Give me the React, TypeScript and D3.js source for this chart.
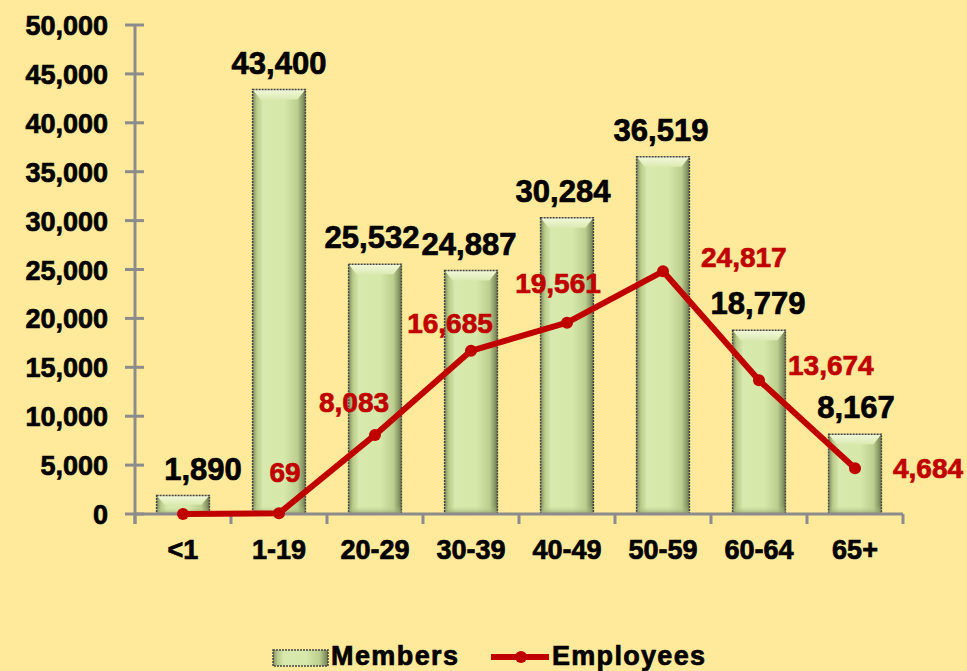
import React from "react";
import * as d3 from "d3";

const categories = ["<1", "1-19", "20-29", "30-39", "40-49", "50-59", "60-64", "65+"];
const members = [1890, 43400, 25532, 24887, 30284, 36519, 18779, 8167];
const employees = [0, 69, 8083, 16685, 19561, 24817, 13674, 4684];
const yTicks = [0, 5000, 10000, 15000, 20000, 25000, 30000, 35000, 40000, 45000, 50000];

// label layout (not data): anchor mode and small nudges, as placed in the original chart
const employeeLabelMode = ["none", "above", "above", "above", "above", "right", "right", "right"];
const employeeLabelNudge: [number, number][] = [
  [0, 0], [6, -41], [-21, -33], [-21, -28], [-9, -40], [38, -14], [29, -15], [38, 0],
];
const memberLabelNudge = [20, 0, -3, -2, -4, -2, -1, 1];

const W = 967;
const H = 671;
const FONT = "'Liberation Sans', Arial, sans-serif";
const RED = "#C00000";

export default function App() {
  const x = d3.scaleBand<string>().domain(categories).range([135, 903]).paddingInner(0.45).paddingOuter(0.225);
  const y = d3.scaleLinear().domain([0, 50000]).range([514, 25]);
  const fmt = d3.format(",");
  const cx = (c: string) => (x(c) as number) + x.bandwidth() / 2;
  const line = d3
    .line<number>()
    .x((_, i) => cx(categories[i]))
    .y((v) => y(v));
  const step = x.step();
  const boundaries = d3.range(categories.length + 1).map((i) => 135 + i * step);
  const bw = x.bandwidth();
  const heavy = (c: string) => ({ stroke: c, strokeWidth: 0.7, paintOrder: "stroke" as const });

  return (
    <svg width={W} height={H} style={{ position: "fixed", left: 0, top: 0, background: "#FFE99A" }} fontFamily={FONT}>
      <defs>
        <linearGradient id="barGrad" x1="0" x2="1" y1="0" y2="0">
          <stop offset="0%" stopColor="#7f8c5c" />
          <stop offset="8%" stopColor="#b9cb8a" />
          <stop offset="20%" stopColor="#d8e9ad" />
          <stop offset="60%" stopColor="#d6e8aa" />
          <stop offset="85%" stopColor="#bccf8e" />
          <stop offset="100%" stopColor="#6f7b4e" />
        </linearGradient>
        <linearGradient id="topGrad" x1="0" x2="0" y1="0" y2="1">
          <stop offset="0%" stopColor="#f2f8da" />
          <stop offset="100%" stopColor="#dbeab2" />
        </linearGradient>
        <linearGradient id="botGrad" x1="0" x2="0" y1="0" y2="1">
          <stop offset="0%" stopColor="#c4d696" stopOpacity={0} />
          <stop offset="100%" stopColor="#8e9c6a" stopOpacity={0.8} />
        </linearGradient>
      </defs>
      <rect x={0} y={0} width={W} height={H} fill="#FFE99A" />

      {/* y axis */}
      <line x1={135} x2={135} y1={y(50000)} y2={524} stroke="#8c8c8c" strokeWidth={3} />
      {yTicks.map((t) => (
        <g key={t}>
          <line x1={125} x2={144} y1={y(t)} y2={y(t)} stroke="#8c8c8c" strokeWidth={3} />
          <text x={108} y={y(t) + 10} textAnchor="end" fontSize={27} fontWeight="bold" fill="#000" {...heavy("#000")}>
            {fmt(t)}
          </text>
        </g>
      ))}

      {/* bars */}
      {members.map((v, i) => {
        const bx = x(categories[i]) as number;
        const by = y(v);
        const bh = y(0) - by;
        const bev = Math.min(10, bh / 2);
        return (
          <g key={i}>
            <rect x={bx} y={by} width={bw} height={bh} fill="url(#barGrad)" />
            <polygon
              points={`${bx},${by} ${bx + bw},${by} ${bx + bw - 8},${by + bev} ${bx + 8},${by + bev}`}
              fill="url(#topGrad)"
            />
            <rect x={bx} y={y(0) - Math.min(8, bh / 3)} width={bw} height={Math.min(8, bh / 3)} fill="url(#botGrad)" />
            <rect x={bx} y={by} width={bw} height={bh} fill="none" stroke="#444" strokeWidth={1.5} strokeDasharray="2,1" />
            <text
              x={cx(categories[i]) + memberLabelNudge[i]}
              y={by - 16}
              textAnchor="middle"
              fontSize={31}
              fontWeight="bold"
              fill="#000"
              {...heavy("#000")}
            >
              {fmt(v)}
            </text>
          </g>
        );
      })}

      {/* x axis */}
      <line x1={135} x2={903} y1={514} y2={514} stroke="#8c8c8c" strokeWidth={3} />
      {boundaries.map((b, i) => (
        <line key={i} x1={b} x2={b} y1={514} y2={524} stroke="#8c8c8c" strokeWidth={3} />
      ))}
      {categories.map((c) => (
        <text key={c} x={cx(c)} y={559} textAnchor="middle" fontSize={27} fontWeight="bold" fill="#000" {...heavy("#000")}>
          {c}
        </text>
      ))}

      {/* employees line */}
      <path d={line(employees) as string} fill="none" stroke={RED} strokeWidth={6} strokeLinejoin="round" />
      {employees.map((v, i) => (
        <circle key={i} cx={cx(categories[i])} cy={y(v)} r={6} fill={RED} />
      ))}
      {employees.map((v, i) => {
        const mode = employeeLabelMode[i];
        if (mode === "none") return null;
        const px = cx(categories[i]) + employeeLabelNudge[i][0];
        const py = y(v) + employeeLabelNudge[i][1];
        return (
          <text
            key={i}
            x={px}
            y={py + 10}
            textAnchor={mode === "right" ? "start" : "middle"}
            fontSize={28}
            fontWeight="bold"
            fill={RED}
            {...heavy(RED)}
          >
            {fmt(v)}
          </text>
        );
      })}

      {/* legend */}
      <g>
        <rect x={273} y={650} width={55} height={16} fill="url(#barGrad)" stroke="#444" strokeWidth={1.5} strokeDasharray="2,1" />
        <text x={331} y={665} fontSize={27} fontWeight="bold" fill="#000" textLength={127} {...heavy("#000")}>
          Members
        </text>
        <line x1={491} x2={549} y1={657} y2={657} stroke={RED} strokeWidth={6} />
        <circle cx={521} cy={657} r={6} fill={RED} />
        <text x={552} y={665} fontSize={27} fontWeight="bold" fill="#000" textLength={153} {...heavy("#000")}>
          Employees
        </text>
      </g>
    </svg>
  );
}
